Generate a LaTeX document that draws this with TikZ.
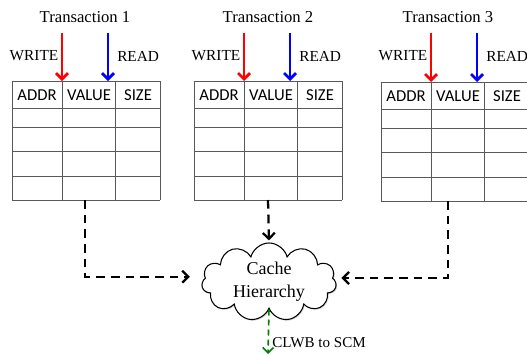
\documentclass[tikz,border=0pt]{standalone}
\usepackage{fontspec}
\setmainfont{Liberation Serif}
\newfontfamily\hdrfont{Carlito}
\usetikzlibrary{shapes.symbols,shadows,arrows.meta,calc}

\tikzset{
    gridline/.style={draw=black!65, line width=0.7pt},
    hdr/.style={font=\hdrfont\fontsize{12.5}{14}\selectfont, inner sep=0pt},
    lbl/.style={font=\fontsize{11.5}{13}\selectfont, inner sep=0pt},
    title/.style={font=\fontsize{12.5}{14}\selectfont, inner sep=0pt},
    wrarrow/.style={red, line width=2pt, -{Straight Barb[length=4.5pt,width=9pt]}},
    rdarrow/.style={blue, line width=2pt, -{Straight Barb[length=4.5pt,width=9pt]}},
    flow/.style={black, line width=1.7pt, dash pattern=on 6.5pt off 4.5pt, -{Straight Barb[length=4.5pt,width=9pt]}},
    flush/.style={black!50!green, line width=1.2pt, dash pattern=on 4.5pt off 3pt, -{Straight Barb[length=4pt,width=8pt]}}
}

\begin{document}
\begin{tikzpicture}[x=0.75pt, y=-0.75pt]
    \useasboundingbox (0,0) rectangle (527,354);

    % transaction tables
    \foreach \n/\tx/\ty/\lx in {1/12/81/85, 2/194/81/268, 3/381/82/448} {
        \node[title] (trans\n) at (\lx,17) {Transaction \n};
        \coordinate (wtop\n) at ({\tx+50},33);
        \coordinate (wbot\n) at ({\tx+50},\ty);
        \coordinate (rtop\n) at ({\tx+96},33);
        \coordinate (rbot\n) at ({\tx+96},\ty);
        \draw[wrarrow] (wtop\n) -- (wbot\n);
        \draw[rdarrow] (rtop\n) -- (rbot\n);
        \node[lbl] (write\n) at ({\tx+22},56) {WRITE};
        \node[lbl, anchor=west] (read\n) at ({\tx+105},56) {READ};

        \foreach \r in {0,27,46,70,95,119}
            \draw[gridline] (\tx,{\ty+\r}) -- ({\tx+148},{\ty+\r});
        \foreach \c in {0,50,103,148}
            \draw[gridline] ({\tx+\c},\ty) -- ({\tx+\c},{\ty+119});

        \node[hdr] (addr\n) at ({\tx+25},{\ty+14}) {ADDR};
        \node[hdr] (value\n) at ({\tx+77},{\ty+14}) {VALUE};
        \node[hdr] (size\n) at ({\tx+126},{\ty+14}) {SIZE};
        \coordinate (tab\n) at (\lx,{\ty+119});
    }

    % cache
    \node[cloud, cloud puffs=11, aspect=2.1, draw, line width=0.8pt, fill=white,
          drop shadow={shadow xshift=0.8pt, shadow yshift=-0.8pt, opacity=0.35},
          minimum width=101pt, minimum height=48pt, inner sep=0pt, align=center,
          font=\fontsize{13.5}{17}\selectfont] (cache) at (269,282) {Cache\\Hierarchy};

    \draw[flow] (tab1) |- ([xshift=-9pt,yshift=4pt]cache.west);
    \draw[flow] (tab2) -- ([yshift=1.5pt]cache.north);
    \draw[flow] (tab3) |- ([xshift=4pt,yshift=3pt]cache.east);

    % write back
    \coordinate (scm) at (268,354);
    \draw[flush] (cache.south) -- (scm);
    \node[lbl, font=\fontsize{11.3}{13}\selectfont, anchor=west] (clwb) at (272,343) {CLWB to SCM};
\end{tikzpicture}
\end{document}
